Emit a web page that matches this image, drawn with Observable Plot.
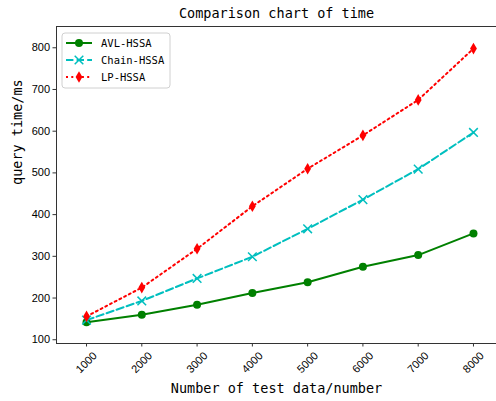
<!DOCTYPE html>
<html><head><meta charset="utf-8">
<script src="https://cdn.jsdelivr.net/npm/d3@7"></script>
<script src="https://cdn.jsdelivr.net/npm/@observablehq/plot@0.6"></script>
<style>body{margin:0;background:#fff} svg{display:block}</style>
</head><body><div id="c"></div>
<script>
const sizes = [1000, 2000, 3000, 4000, 5000, 6000, 7000, 8000];
const avlHSSA = [142, 160, 184, 212, 238, 275, 303, 355];
const chainHSSA = [147, 193, 247, 299, 366, 436, 509, 597];
const lpHSSA = [156, 225, 318, 420, 510, 590, 675, 798];
const yTicks = [100, 200, 300, 400, 500, 600, 700, 800];
const xTicks = sizes;
const seriesNames = ["AVL-HSSA", "Chain-HSSA", "LP-HSSA"];
const seriesColors = ["#008000", "#00bfbf", "#ff0000"];
const titleText = "Comparison chart of time";
const xLabel = "Number of test data/number";
const yLabel = "query time/ms";

const mono = "DejaVu Sans Mono, monospace";
const sans = "Liberation Sans, Arial, sans-serif";

const thinDiamond = {
  draw(ctx, size) {
    const r = Math.sqrt(size / Math.PI);
    const h = r * 1.45, w = r * 0.85;
    ctx.moveTo(0, -h); ctx.lineTo(w, 0); ctx.lineTo(0, h); ctx.lineTo(-w, 0); ctx.closePath();
  }
};

const rows = (vals) => sizes.map((s, i) => ({x: s, y: vals[i]}));
const A = rows(avlHSSA), C = rows(chainHSSA), L = rows(lpHSSA);

const xMin = 457, xMax = 8543, yMin = 91, yMax = 851;

const chart = Plot.plot({
  width: 496,
  height: 401,
  marginTop: 26,
  marginBottom: 58,
  marginLeft: 56,
  marginRight: 0,
  x: {domain: [xMin, xMax], range: [56, 503]},
  y: {domain: [yMin, yMax]},
  style: {fontFamily: sans, fontSize: "11px", color: "#000", background: "#fff"},
  marks: [
    Plot.axisY(yTicks, {tickSize: 3.5, tickPadding: 3, label: null, fontSize: 11, stroke: "#333"}),
    Plot.axisX(xTicks, {tickSize: 3.5, tickFormat: () => "", label: null, stroke: "#333"}),
    Plot.text(xTicks, {x: d => d, frameAnchor: "bottom", dy: 19, rotate: -45, textAnchor: "middle", lineAnchor: "middle", text: d => String(d), fontSize: 11}),
    Plot.ruleY([yMin], {stroke: "#333", strokeWidth: 1}),
    Plot.ruleY([yMax], {stroke: "#333", strokeWidth: 1}),
    Plot.ruleX([xMin], {stroke: "#333", strokeWidth: 1}),
    Plot.line(A, {x: "x", y: "y", stroke: seriesColors[0], strokeWidth: 2}),
    Plot.dot(A, {x: "x", y: "y", r: 4, fill: seriesColors[0], stroke: "none", symbol: "circle"}),
    Plot.line(C, {x: "x", y: "y", stroke: seriesColors[1], strokeWidth: 2, strokeDasharray: "7.4,3.2"}),
    Plot.dot(C, {x: "x", y: "y", r: 4, fill: "none", stroke: seriesColors[1], strokeWidth: 1.5, symbol: "times"}),
    Plot.line(L, {x: "x", y: "y", stroke: seriesColors[2], strokeWidth: 2, strokeDasharray: "2,3.3"}),
    Plot.dot(L, {x: "x", y: "y", r: 4, fill: seriesColors[2], stroke: "none", symbol: thinDiamond}),
    Plot.text([titleText], {frameAnchor: "top", dy: -13, text: d => d, fontFamily: mono, fontSize: 13.5, lineAnchor: "middle"}),
    Plot.text([xLabel], {frameAnchor: "bottom", dy: 45, text: d => d, fontFamily: mono, fontSize: 13.5, lineAnchor: "middle"}),
    Plot.text([yLabel], {frameAnchor: "left", dx: -39, rotate: -90, text: d => d, fontFamily: mono, fontSize: 13.5, lineAnchor: "middle"})
  ]
});
document.getElementById("c").appendChild(chart);

// legend inside the axes (upper left)
const svg = d3.select(chart);
const lg = svg.append("g").attr("font-family", mono).attr("font-size", 10.5).attr("text-anchor", "start");
lg.append("rect").attr("x", 62).attr("y", 33).attr("width", 108).attr("height", 55).attr("rx", 3)
  .attr("fill", "#fff").attr("fill-opacity", 0.8).attr("stroke", "#d0d0d0").attr("stroke-width", 1);
const dashes = [null, "7.4,3.2", "2,3.3"];
const markers = [d3.symbolCircle, d3.symbolTimes, thinDiamond];
seriesNames.forEach((name, i) => {
  const yy = 43 + i * 17;
  lg.append("line").attr("x1", 66).attr("x2", 92).attr("y1", yy).attr("y2", yy)
    .attr("stroke", seriesColors[i]).attr("stroke-width", 2).attr("stroke-dasharray", dashes[i]);
  const sym = d3.symbol(markers[i], 50)();
  const p = lg.append("path").attr("d", sym).attr("transform", `translate(79,${yy})`);
  if (i === 1) p.attr("fill", "none").attr("stroke", seriesColors[i]).attr("stroke-width", 1.5);
  else p.attr("fill", seriesColors[i]);
  lg.append("text").attr("x", 101).attr("y", yy).attr("dy", "0.35em").attr("text-anchor", "start").text(name);
});
</script></body></html>
